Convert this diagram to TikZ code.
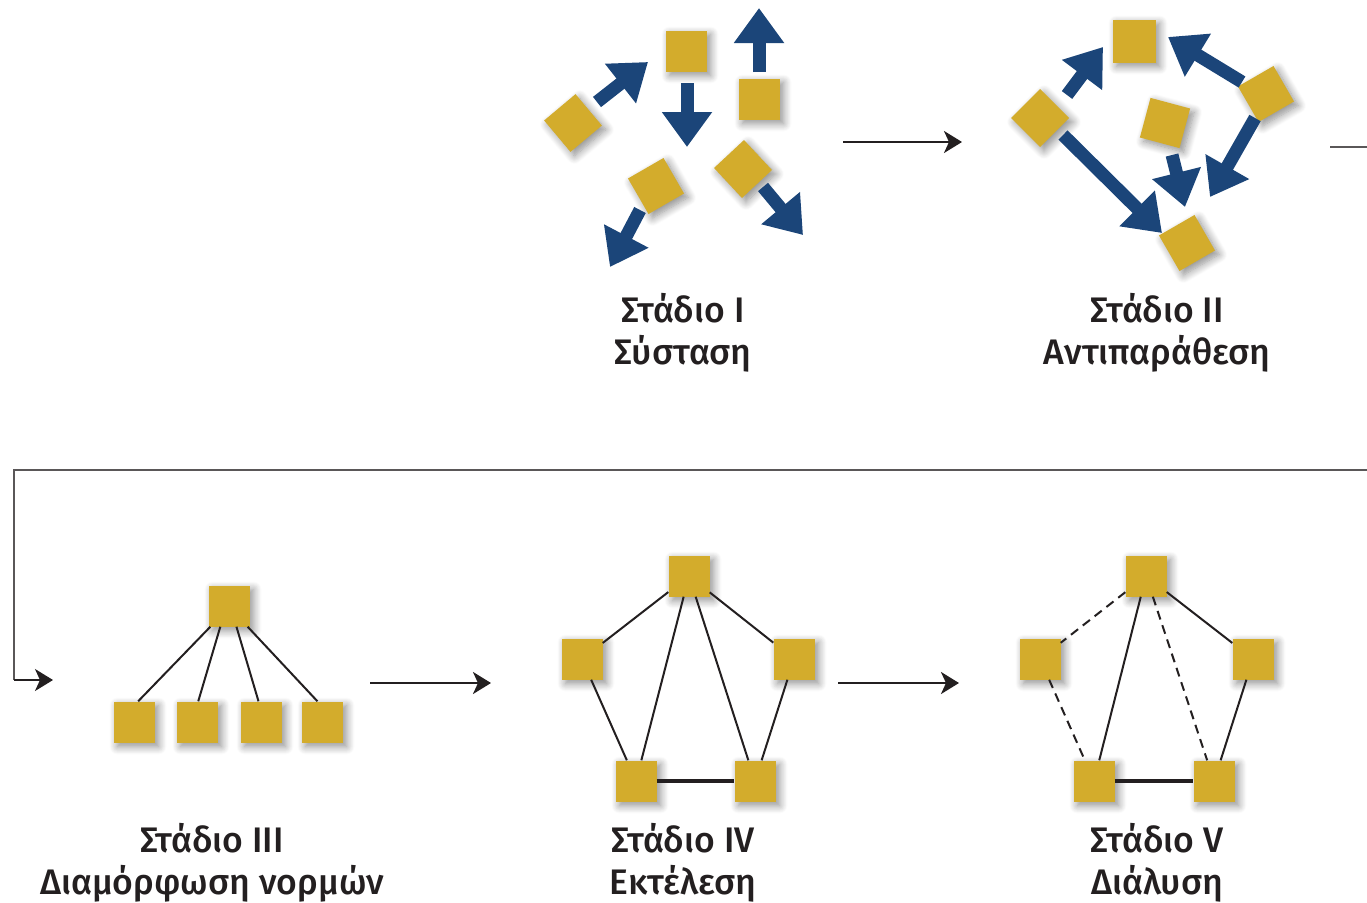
\documentclass[tikz,border=0pt]{standalone}
\usepackage{fontspec}
\setmainfont{Fira Sans Medium}
\usetikzlibrary{arrows.meta,calc,shadows.blur}
\definecolor{gold}{HTML}{D3AC2C}
\definecolor{navy}{HTML}{1B4579}
\definecolor{ink}{HTML}{231F20}
\tikzset{
  sq/.style={fill=gold, minimum size=41pt, inner sep=0pt, draw=none,
    blur shadow={shadow xshift=4pt, shadow yshift=-4pt, shadow blur steps=10,
      shadow opacity=45, shadow blur radius=8pt}},
  fat/.style={navy, line width=13pt, -{Triangle[width=48pt,length=35pt]}},
  link/.style={line width=2pt, ink},
  tlink/.style={line width=3.5pt, ink},
  dlink/.style={link, dash pattern=on 9pt off 6pt},
  stagearrow/.style={line width=2.6pt, ink, -{Stealth[length=18pt,width=22pt,inset=5pt]}},
  loopline/.style={line width=2pt, ink!75},
  lab/.style={align=center, font=\fontsize{35.5}{42}\selectfont, text=ink},
}
\begin{document}
\begin{tikzpicture}[x=1pt,y=-1pt]
\useasboundingbox (0,0) rectangle (1367,902);

% ---------- Stage I ----------
\node[sq] (s1a) at (686,51) {};
\node[sq] (s1b) at (759,99) {};
\node[sq, rotate=40] (s1c) at (573,123) {};
\node[sq, rotate=30] (s1d) at (656,186) {};
\node[sq, rotate=43] (s1e) at (743,169) {};
\coordinate (a1t) at (597,102); \coordinate (a1h) at (648,62);
\coordinate (a2t) at (687,83);  \coordinate (a2h) at (687,147);
\coordinate (a3t) at (759,72);  \coordinate (a3h) at (759,8);
\coordinate (a4t) at (640,210); \coordinate (a4h) at (610,267);
\coordinate (a5t) at (763,187); \coordinate (a5h) at (803,235);
\draw[fat] (a1t) -- (a1h);
\draw[fat] (a2t) -- (a2h);
\draw[fat] (a3t) -- (a3h);
\draw[fat] (a4t) -- (a4h);
\draw[fat] (a5t) -- (a5h);
\node[lab] (l1) at (683,333) {Στάδιο I\\Σύσταση};

% ---------- Stage II ----------
\node[sq, minimum size=43pt] (s2a) at (1134,41) {};
\node[sq, rotate=45] (s2b) at (1040,118) {};
\node[sq, rotate=30] (s2c) at (1266,94) {};
\node[sq, rotate=-15] (s2d) at (1165,123) {};
\node[sq, rotate=30] (s2e) at (1187,243) {};
\coordinate (b1t) at (1067,95);  \coordinate (b1h) at (1103,47);
\coordinate (b2t) at (1242,82);  \coordinate (b2h) at (1168,37);
\coordinate (b3t) at (1063,135); \coordinate (b3h) at (1162,233);
\coordinate (b4t) at (1172,155); \coordinate (b4h) at (1185,207);
\coordinate (b5t) at (1255,118); \coordinate (b5h) at (1210,197);
\draw[fat] (b1t) -- (b1h);
\draw[fat] (b2t) -- (b2h);
\draw[fat] (b3t) -- (b3h);
\draw[fat] (b4t) -- (b4h);
\draw[fat] (b5t) -- (b5h);
\node[lab] (l2) at (1157,333) {Στάδιο II\\Αντιπαράθεση};

% stage arrow I -> II
\coordinate (c12a) at (843,142); \coordinate (c12b) at (962,142);
\draw[stagearrow] (c12a) -- (c12b);

% loop connector
\coordinate (lp0) at (1330,147);
\coordinate (lp1) at (1380,147);
\coordinate (lp2) at (1380,470);
\coordinate (lp3) at (14,470);
\coordinate (lp4) at (14,680);
\coordinate (lp5) at (53,680);
\draw[loopline] (lp0) -- (lp1) -- (lp2) -- (lp3) -- (lp4);
\draw[stagearrow, line width=2pt] (lp4) -- (lp5);

% ---------- Stage III ----------
\node[sq] (t3) at (229,606) {};
\node[sq] (b31) at (134,722) {};
\node[sq] (b32) at (197,722) {};
\node[sq] (b33) at (261,722) {};
\node[sq] (b34) at (322,722) {};
\draw[link] ($(t3.south west)!0.05!(t3.south east)$) -- ($(b31.north west)!0.6!(b31.north east)$);
\draw[link] ($(t3.south west)!0.29!(t3.south east)$) -- ($(b32.north west)!0.53!(b32.north east)$);
\draw[link] ($(t3.south west)!0.68!(t3.south east)$) -- ($(b33.north west)!0.44!(b33.north east)$);
\draw[link] ($(t3.south west)!0.95!(t3.south east)$) -- ($(b34.north west)!0.39!(b34.north east)$);
\node[lab] (l3) at (212,863) {Στάδιο III\\Διαμόρφωση νορμών};

\coordinate (c34a) at (370,683); \coordinate (c34b) at (491,683);
\draw[stagearrow] (c34a) -- (c34b);

% ---------- Stage IV ----------
\node[sq] (t4) at (689,576) {};
\node[sq] (l4) at (582,659) {};
\node[sq] (r4) at (794,659) {};
\node[sq] (bl4) at (636,781) {};
\node[sq] (br4) at (755,781) {};
\draw[link] (t4) -- (l4);
\draw[link] (t4) -- (r4);
\draw[link] (t4) -- (bl4);
\draw[link] (t4) -- (br4);
\draw[link] (l4) -- (bl4);
\draw[link] (r4) -- (br4);
\draw[tlink] (bl4) -- (br4);
\node[lab] (l4t) at (683,863) {Στάδιο IV\\Εκτέλεση};

\coordinate (c45a) at (838,683); \coordinate (c45b) at (959,683);
\draw[stagearrow] (c45a) -- (c45b);

% ---------- Stage V ----------
\node[sq] (t5) at (1146,576) {};
\node[sq] (l5) at (1040,659) {};
\node[sq] (r5) at (1253,659) {};
\node[sq] (bl5) at (1094,781) {};
\node[sq] (br5) at (1214,781) {};
\draw[dlink] (t5) -- (l5);
\draw[link] (t5) -- (r5);
\draw[link] (t5) -- (bl5);
\draw[dlink] (t5) -- (br5);
\draw[dlink] (l5) -- (bl5);
\draw[link] (r5) -- (br5);
\draw[tlink] (bl5) -- (br5);
\node[lab] (l5t) at (1157,863) {Στάδιο V\\Διάλυση};
\end{tikzpicture}
\end{document}
